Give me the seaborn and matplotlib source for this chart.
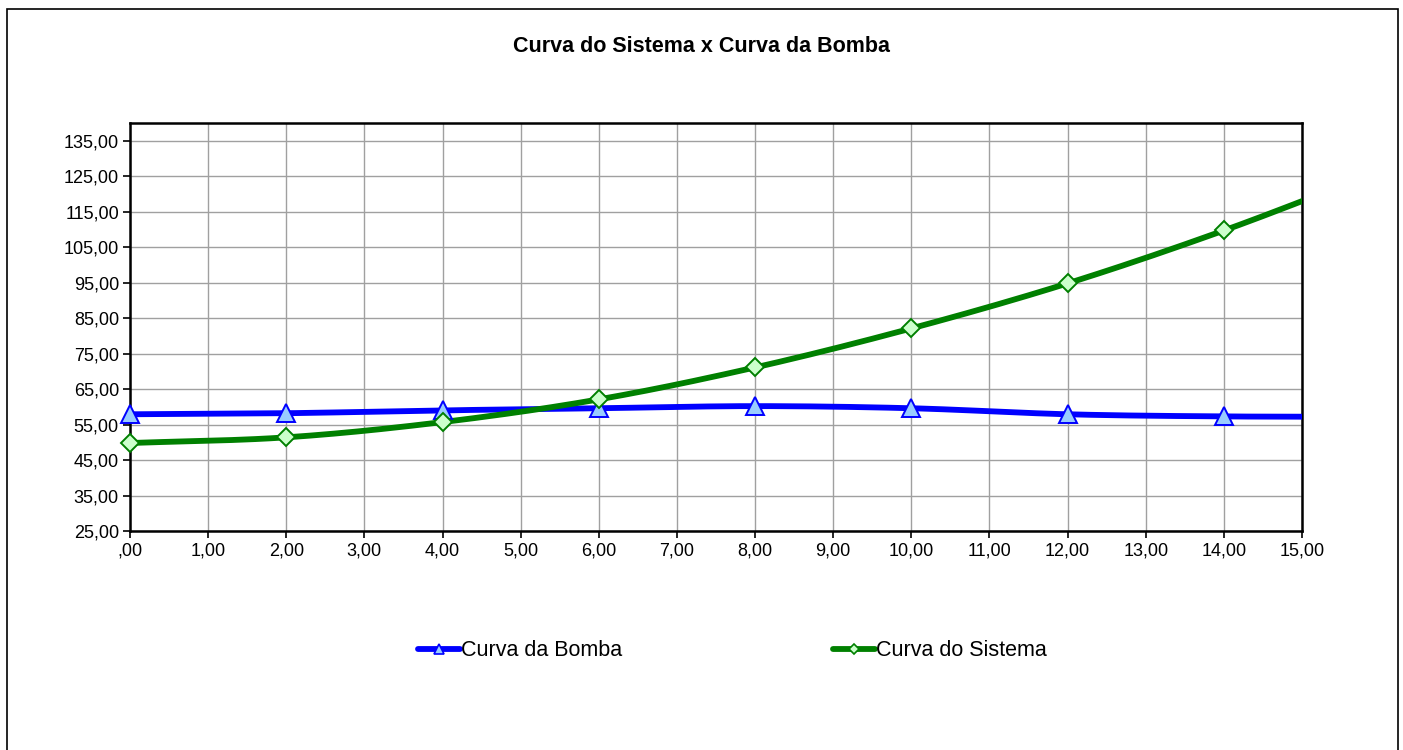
import numpy as np
import matplotlib
matplotlib.use("Agg")
import matplotlib.pyplot as plt
import seaborn as sns
from matplotlib.lines import Line2D
from matplotlib.patches import Rectangle
from matplotlib.ticker import FuncFormatter

# data
vazao = [0, 2, 4, 6, 8, 10, 12, 14, 16]
curva_bomba = [57.9, 58.2, 59.0, 59.6, 60.2, 59.6, 57.9, 57.3, 57.2]
curva_sistema = [49.8, 51.4, 55.7, 62.1, 71.1, 82.1, 94.8, 109.7, 126.5]

title = "Curva do Sistema x Curva da Bomba"
labels = ["Curva da Bomba", "Curva do Sistema"]
y_ticks = [25, 35, 45, 55, 65, 75, 85, 95, 105, 115, 125, 135]
x_ticks = list(range(0, 16))


def smooth(x, y, n=20):
    """Catmull-Rom curve through the points (like Excel smoothed lines)."""
    x = np.asarray(x, float)
    y = np.asarray(y, float)
    px = np.concatenate([[2 * x[0] - x[1]], x, [2 * x[-1] - x[-2]]])
    py = np.concatenate([[2 * y[0] - y[1]], y, [2 * y[-1] - y[-2]]])
    t = np.linspace(0, 1, n, endpoint=False)
    xs, ys = [], []
    for i in range(1, len(px) - 2):
        for p, out in ((px, xs), (py, ys)):
            p0, p1, p2, p3 = p[i - 1], p[i], p[i + 1], p[i + 2]
            out.extend(0.5 * (2 * p1 + (-p0 + p2) * t
                              + (2 * p0 - 5 * p1 + 4 * p2 - p3) * t ** 2
                              + (-p0 + 3 * p1 - 3 * p2 + p3) * t ** 3))
    xs.append(x[-1])
    ys.append(y[-1])
    return np.array(xs), np.array(ys)


def fmt_br(v, pos):
    s = f"{v:.2f}".replace(".", ",")
    return s[1:] if s.startswith("0,") else s


sns.set_style("white")
plt.rcParams["font.family"] = ["Liberation Sans", "DejaVu Sans"]
plt.rcParams["text.color"] = "black"

fig = plt.figure(figsize=(14.03, 7.5), dpi=100)
ax = fig.add_axes([130 / 1403, 1 - 531 / 750, 1172 / 1403, 408 / 750])

series = [
    (curva_bomba, "#0000FF", "^", "#99CCFF", 13),
    (curva_sistema, "#008000", "D", "#CCFFCC", 9.5),
]
for vals, cor, mk, face, ms in series:
    xs, ys = smooth(vazao, vals)
    sns.lineplot(x=xs, y=ys, ax=ax, color=cor, linewidth=4.2,
                 sort=False, estimator=None, zorder=3)
    keep = [i for i, q in enumerate(vazao) if q <= 15]
    ax.plot([vazao[i] for i in keep], [vals[i] for i in keep],
            linestyle="none", marker=mk, markersize=ms,
            markerfacecolor=face, markeredgecolor=cor,
            markeredgewidth=1.4, zorder=4, clip_on=False)

ax.set_xlim(0, 15)
ax.set_ylim(25, 140)
ax.set_xticks(x_ticks)
ax.set_yticks(y_ticks)
ax.xaxis.set_major_formatter(FuncFormatter(fmt_br))
ax.yaxis.set_major_formatter(FuncFormatter(fmt_br))
ax.tick_params(axis="both", labelsize=13, length=5, width=1.2,
               direction="out", color="black", pad=3, labelcolor="black")
ax.tick_params(left=True, bottom=True)
ax.grid(True, color="#A0A0A0", linewidth=1.0)
for sp in ax.spines.values():
    sp.set_color("black")
    sp.set_linewidth(1.8)

fig.text(0.5, 1 - 47 / 750, title, ha="center", va="center",
         fontsize=15.5, fontweight="bold", color="black")

handles = [
    Line2D([], [], color=c, linewidth=4.2, marker=m, markersize=ms * 0.55,
           markerfacecolor=f, markeredgecolor=c, markeredgewidth=1.2)
    for (_, c, m, f, ms) in series
]
fig.legend(handles, labels, loc="center", bbox_to_anchor=(0.522, 1 - 651 / 750),
           ncol=2, frameon=False, fontsize=15.5, handlelength=1.95,
           handletextpad=0.05, columnspacing=9.8, labelcolor="black")

# outer chart frame
fig.patches.append(Rectangle((7 / 1403, -0.05), 1391 / 1403, 1.05 - 9 / 750,
                             transform=fig.transFigure, fill=False,
                             edgecolor="black", linewidth=1.2))

fig.savefig("out.png", dpi=100)
